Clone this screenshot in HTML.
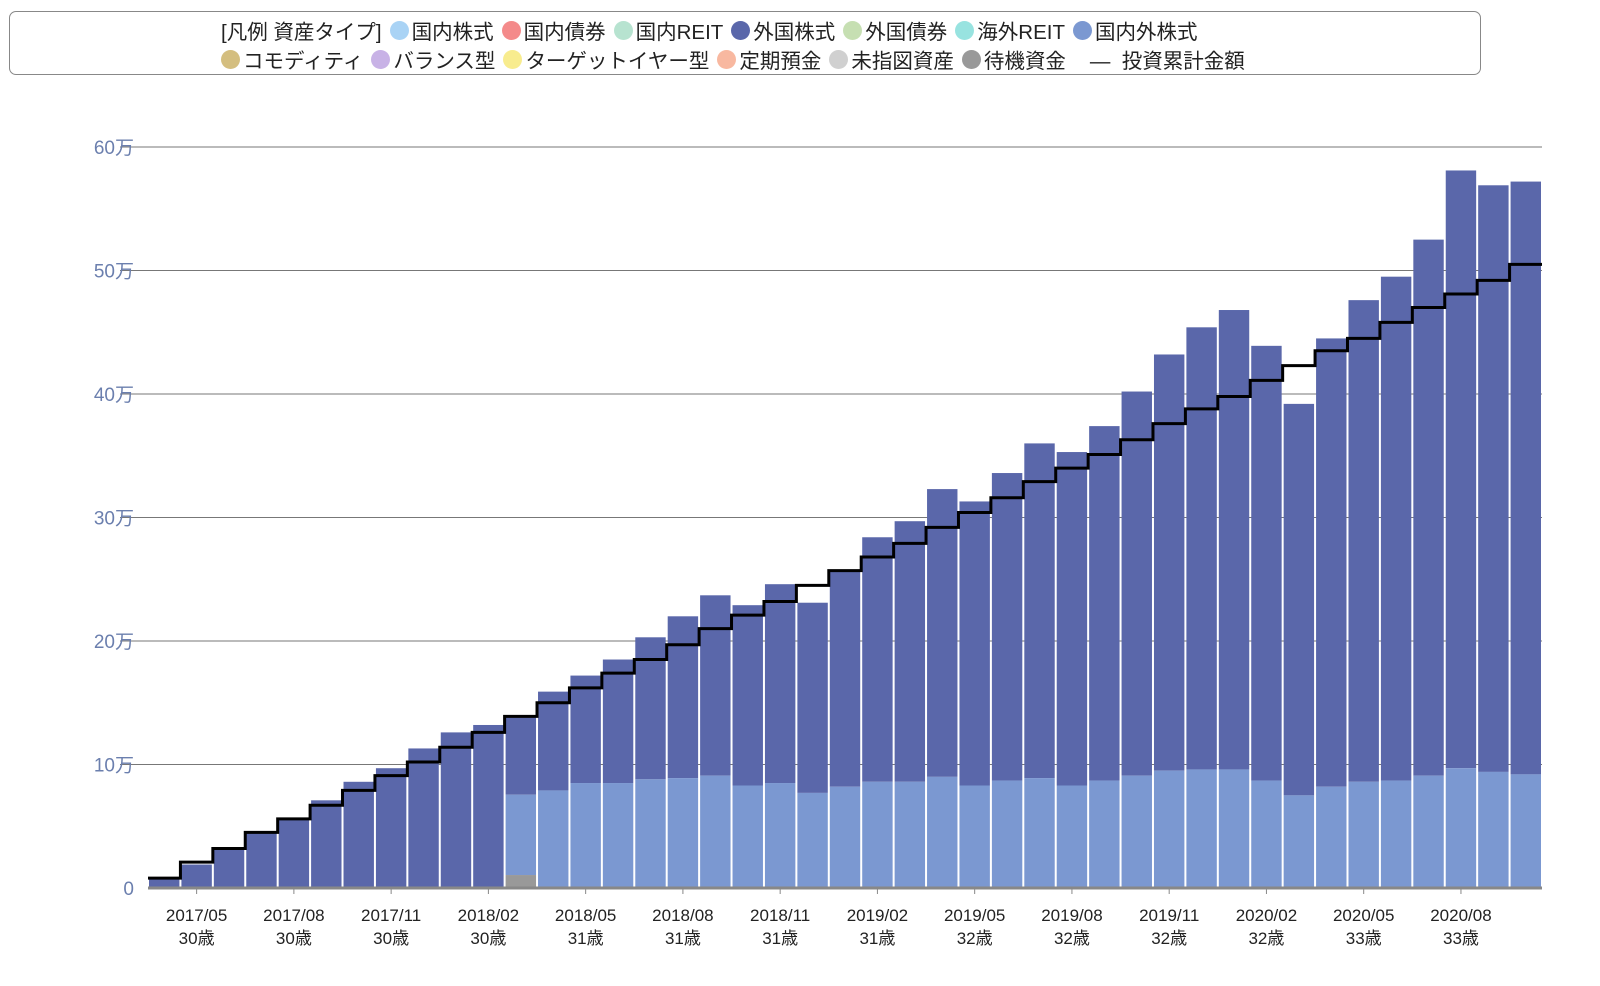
<!DOCTYPE html>
<html><head><meta charset="utf-8"><style>
body{margin:0;width:1600px;height:986px;background:#fff;font-family:"Liberation Sans","Noto Sans CJK JP",sans-serif;overflow:hidden;position:relative}
#legend{position:absolute;left:9px;top:11px;width:1472px;height:64px;border:1.5px solid #888;border-radius:7px;box-sizing:border-box}
.row{position:absolute;left:211px;display:flex;align-items:center;font-size:20.5px;color:#222;white-space:nowrap}
.it{display:flex;align-items:center;margin-right:8px}
.dot{width:19px;height:19px;border-radius:50%;margin-right:3px;display:inline-block}
</style></head><body>
<div id="legend">
<div class="row" style="top:3px">
<span class="it">[凡例 資産タイプ]</span>
<span class="it"><i class="dot" style="background:#a9d3f5"></i>国内株式</span>
<span class="it"><i class="dot" style="background:#f48a8a"></i>国内債券</span>
<span class="it"><i class="dot" style="background:#b7e3d0"></i>国内REIT</span>
<span class="it"><i class="dot" style="background:#5a67aa"></i>外国株式</span>
<span class="it"><i class="dot" style="background:#c6dfb2"></i>外国債券</span>
<span class="it"><i class="dot" style="background:#98e3e0"></i>海外REIT</span>
<span class="it"><i class="dot" style="background:#7b98d1"></i>国内外株式</span>
</div>
<div class="row" style="top:32px">
<span class="it"><i class="dot" style="background:#d4be7f"></i>コモディティ</span>
<span class="it"><i class="dot" style="background:#c8b2e6"></i>バランス型</span>
<span class="it"><i class="dot" style="background:#f8ec8e"></i>ターゲットイヤー型</span>
<span class="it"><i class="dot" style="background:#f8b8a0"></i>定期預金</span>
<span class="it"><i class="dot" style="background:#d0d0d0"></i>未指図資産</span>
<span class="it"><i class="dot" style="background:#999"></i>待機資金</span>
<span class="it" style="margin-left:16px">—&nbsp; 投資累計金額</span>
</div>
</div>
<svg id="chart" width="1600" height="986" style="position:absolute;left:0;top:0"></svg>
<script>
const totals=[0.8,1.9,3.2,4.5,5.7,7.1,8.6,9.7,11.3,12.6,13.2,13.8,15.9,17.2,18.5,20.3,22.0,23.7,22.9,24.6,23.1,25.7,28.4,29.7,32.3,31.3,33.6,36.0,35.3,37.4,40.2,43.2,45.4,46.8,43.9,39.2,44.5,47.6,49.5,52.5,58.1,56.9,57.2];
const globalStock=[0,0,0,0,0,0,0,0,0,0,0,6.5,7.9,8.5,8.5,8.8,8.9,9.1,8.3,8.5,7.7,8.2,8.6,8.6,9.0,8.3,8.7,8.9,8.3,8.7,9.1,9.5,9.6,9.6,8.7,7.5,8.2,8.6,8.7,9.1,9.7,9.4,9.2];
const cash=[0,0,0,0,0,0,0,0,0,0,0,1.05,0,0,0,0,0,0,0,0,0,0,0,0,0,0,0,0,0,0,0,0,0,0,0,0,0,0,0,0,0,0,0];
const cumulative=[0.8,2.1,3.2,4.5,5.6,6.7,7.9,9.1,10.2,11.4,12.6,13.9,15.0,16.2,17.4,18.5,19.7,21.0,22.1,23.2,24.5,25.7,26.8,27.9,29.2,30.4,31.6,32.9,34.0,35.1,36.3,37.6,38.8,39.8,41.1,42.3,43.5,44.5,45.8,47.0,48.1,49.2,50.5];
const months=["2017/05","2017/08","2017/11","2018/02","2018/05","2018/08","2018/11","2019/02","2019/05","2019/08","2019/11","2020/02","2020/05","2020/08"];
const ages=["30歳","30歳","30歳","30歳","31歳","31歳","31歳","31歳","32歳","32歳","32歳","32歳","33歳","33歳"];
const yTicks=[0,10,20,30,40,50,60];
const svg=document.getElementById('chart');const NS='http://www.w3.org/2000/svg';
const X0=148,X1=1542,Y0=888,Y60=147;
const bw=(X1-X0)/totals.length;
const y=v=>Y0-(v/60)*(Y0-Y60);
const x=i=>X0+i*bw;
function mk(t,a,p){const e=document.createElementNS(NS,t);for(const k in a)e.setAttribute(k,a[k]);(p||svg).appendChild(e);return e;}
yTicks.forEach(v=>{
 if(v>0){const l=mk('line',{x1:120,x2:1542,y1:y(v),y2:y(v),stroke:'#777','stroke-width':1});
 
 }
 const t=mk('text',{x:134,y:y(v)+7,'text-anchor':'end','font-size':19,fill:'#6b7fae'});
 t.textContent=v===0?'0':v+'万';
 
 
});
totals.forEach((v,i)=>{
 const bx=x(i)+1,w=bw-2;
 const dark=mk('rect',{x:bx,y:y(v),width:w,height:y(globalStock[i]+cash[i])-y(v),fill:'#5a67aa'});
 
 
 if(globalStock[i]>0){const r=mk('rect',{x:bx,y:y(globalStock[i]+cash[i]),width:w,height:y(cash[i])-y(globalStock[i]+cash[i]),fill:'#7b98d1'});
 
 }
 if(cash[i]>0){const r=mk('rect',{x:bx,y:y(cash[i]),width:w,height:Y0-y(cash[i]),fill:'#999'});
 
 }
});
const ax=mk('line',{x1:148,x2:1542,y1:Y0,y2:Y0,stroke:'#888','stroke-width':3});


let d='';cumulative.forEach((v,i)=>{d+=(i===0?'M':'L')+x(i)+','+y(v)+'L'+x(i+1)+','+y(v);});
const ln=mk('path',{d:d,fill:'none',stroke:'#000','stroke-width':3});


months.forEach((m,k)=>{
 const cx=x(1+3*k)+bw/2;
 mk('line',{x1:cx,x2:cx,y1:Y0,y2:Y0+6,stroke:'#888','stroke-width':1});
 const t=mk('text',{x:cx,y:921,'text-anchor':'middle','font-size':17,fill:'#222'});t.textContent=m;
 
 
 const a=mk('text',{x:cx,y:944,'text-anchor':'middle','font-size':17,fill:'#222'});a.textContent=ages[k];
 
 
});
</script>
</body></html>
